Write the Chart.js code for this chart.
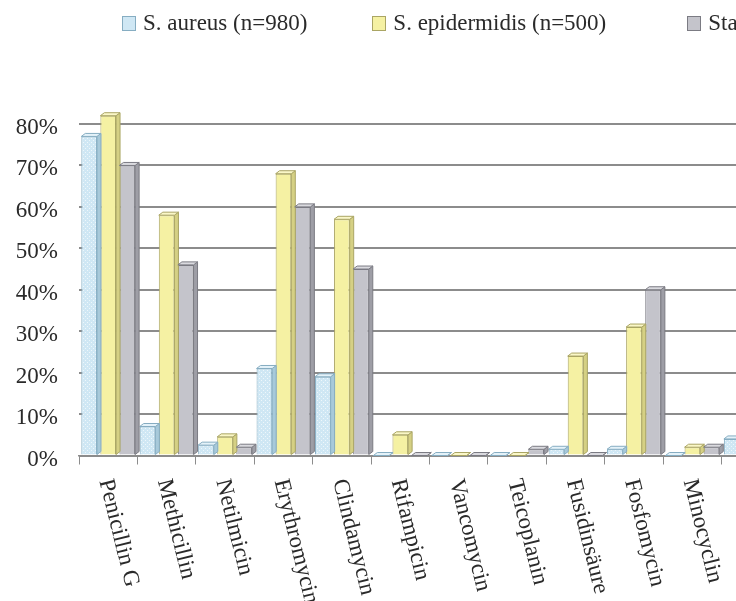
<!DOCTYPE html>
<html>
<head>
<meta charset="utf-8">
<script src="https://cdn.jsdelivr.net/npm/chart.js@4.4.1/dist/chart.umd.min.js"></script>
<style>
  html, body { margin: 0; padding: 0; background: #fff; overflow: hidden; }
  body { width: 736px; height: 601px; position: relative; }
  #wrap { position: absolute; left: 0; top: 0; width: 780px; height: 601px; }
  #legend { position: absolute; left: 122px; top: 10px; z-index: 2; display: flex; white-space: nowrap;
            font-family: "Liberation Serif", serif; font-size: 23px; color: #2a2a2a; }
  #legend .item { display: flex; align-items: center; margin-right: 65px; }
  #legend .item:nth-child(2) { margin-right: 81px; }
  #legend .box { width: 12px; height: 13px; border: 1px solid #777; margin-right: 7px; }
</style>
</head>
<body>
<div id="wrap"><canvas id="chart"></canvas></div>
<div id="legend"></div>
<script>
const categories = ['Penicillin G', 'Methicillin', 'Netilmicin', 'Erythromycin', 'Clindamycin', 'Rifampicin',
  'Vancomycin', 'Teicoplanin', 'Fusidinsäure', 'Fosfomycin', 'Minocyclin', 'Cotrimoxazol'];
const seriesNames = ['S. aureus (n=980)', 'S. epidermidis (n=500)', 'Staphylococcus spp.'];
const aureus = [77, 7, 2.5, 21, 19, 0, 0, 0, 1.5, 1.5, 0, 4];
const epidermidis = [82, 58, 4.5, 68, 57, 5, 0, 0, 24, 31, 2, null];
const staph = [70, 46, 2, 60, 45, 0, 0, 1.5, 0, 40, 2, null];
const yTicks = [0, 10, 20, 30, 40, 50, 60, 70, 80];

const fills = ['#cfe7f4', '#f5f1a3', '#c4c4cb'];
const borders = ['#86adc2', '#aaa564', '#7b7b83'];
const caps = ['#e4f2f9', '#faf7c8', '#dadadf'];
const sides = ['#a7c9da', '#d5d084', '#9e9ea6'];

// dotted texture like the blue bars in the original
function dots(base, dot) {
  const c = document.createElement('canvas');
  c.width = 4; c.height = 4;
  const g = c.getContext('2d');
  g.fillStyle = base; g.fillRect(0, 0, 4, 4);
  g.fillStyle = dot; g.fillRect(1, 0, 1, 1); g.fillRect(3, 2, 1, 1);
  return g.createPattern(c, 'repeat');
}

const htmlLegend = {
  id: 'htmlLegend',
  afterUpdate(chart) {
    const box = document.getElementById('legend');
    box.innerHTML = '';
    chart.options.plugins.legend.labels.generateLabels(chart).forEach(item => {
      const el = document.createElement('div');
      el.className = 'item';
      el.innerHTML = `<span class="box" style="background:${fills[item.datasetIndex]};border-color:${borders[item.datasetIndex]}"></span>${item.text}`;
      box.appendChild(el);
    });
  }
};

// fake depth: a top cap and a right side face on each bar
const depth = {
  id: 'depth',
  afterDatasetsDraw(chart) {
    const ctx = chart.ctx;
    const dx = 4, dy = 3;
    ctx.save();
    ctx.lineWidth = 1;
    chart.data.datasets.forEach((ds, di) => {
      chart.getDatasetMeta(di).data.forEach((bar, i) => {
        if (ds.data[i] == null) return;
        const { x, y, base, width } = bar.getProps(['x', 'y', 'base', 'width'], true);
        const l = x - width / 2, r = x + width / 2;
        ctx.strokeStyle = borders[di];
        ctx.fillStyle = sides[di];
        ctx.beginPath();
        ctx.moveTo(r, y); ctx.lineTo(r + dx, y - dy); ctx.lineTo(r + dx, base - dy); ctx.lineTo(r, base);
        ctx.closePath(); ctx.fill(); ctx.stroke();
        ctx.fillStyle = caps[di];
        ctx.beginPath();
        ctx.moveTo(l, y); ctx.lineTo(l + dx, y - dy); ctx.lineTo(r + dx, y - dy); ctx.lineTo(r, y);
        ctx.closePath(); ctx.fill(); ctx.stroke();
      });
    });
    ctx.restore();
  }
};

// category names run downwards (clockwise), which the built-in ticks can't do
const downLabels = {
  id: 'downLabels',
  afterDraw(chart) {
    const { ctx, scales: { x } } = chart;
    ctx.save();
    ctx.font = '23px "Liberation Serif"';
    ctx.fillStyle = '#2a2a2a';
    ctx.textAlign = 'left';
    ctx.textBaseline = 'middle';
    x.getLabels().forEach((name, i) => {
      ctx.save();
      ctx.translate(x.getPixelForValue(i) - 3, x.top + 24);
      ctx.rotate(76 * Math.PI / 180);
      ctx.fillText(name, 0, 0);
      ctx.restore();
    });
    ctx.restore();
  }
};

new Chart(document.getElementById('chart'), {
  type: 'bar',
  data: {
    labels: categories,
    datasets: [
      { label: seriesNames[0], data: aureus, backgroundColor: dots(fills[0], '#eef7fb'), borderColor: borders[0] },
      { label: seriesNames[1], data: epidermidis, backgroundColor: fills[1], borderColor: borders[1] },
      { label: seriesNames[2], data: staph, backgroundColor: fills[2], borderColor: borders[2] }
    ]
  },
  options: {
    responsive: true,
    maintainAspectRatio: false,
    animation: false,
    layout: { padding: { top: 124, bottom: 136.5, left: 0, right: 0 } },
    datasets: {
      bar: { borderWidth: 1, categoryPercentage: 0.98, barPercentage: 0.82, clip: false }
    },
    plugins: {
      legend: { display: false },
      tooltip: { enabled: false }
    },
    scales: {
      x: {
        grid: { offset: true, drawOnChartArea: false, drawTicks: true, tickLength: 9, color: '#8c8c8c' },
        border: { color: '#8c8c8c', width: 1.5 },
        ticks: { display: false }
      },
      y: {
        min: yTicks[0],
        max: yTicks[yTicks.length - 1],
        afterBuildTicks: s => { s.ticks = yTicks.map(v => ({ value: v })); },
        afterFit: s => { s.width = 79; },
        grid: { color: '#8c8c8c', lineWidth: 2, drawTicks: false },
        border: { display: false },
        ticks: {
          padding: 21,
          labelOffset: 4,
          color: '#2a2a2a',
          font: { family: 'Liberation Serif', size: 23 },
          callback: v => v + '%'
        }
      }
    }
  },
  plugins: [htmlLegend, depth, downLabels]
});
</script>
</body>
</html>
